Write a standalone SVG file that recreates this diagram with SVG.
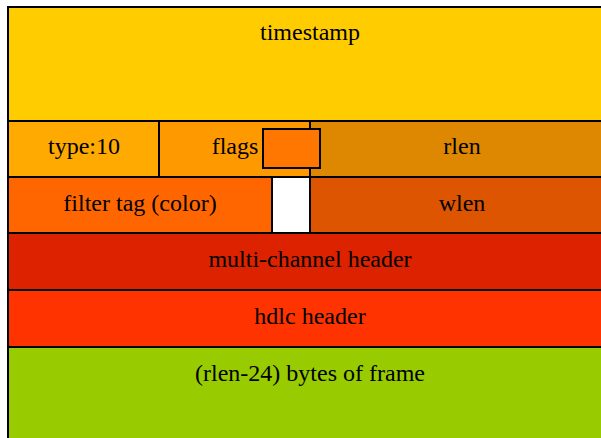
<svg xmlns="http://www.w3.org/2000/svg" width="601" height="438" viewBox="0 0 601 438">
<style>
.c{stroke:#000;stroke-width:2}
text{font-family:"Liberation Serif","Times New Roman",serif;font-size:24px;fill:#000;text-anchor:middle}
</style>
<rect x="0" y="0" width="601" height="438" fill="#fff"/>
<g id="timestamp"><rect class="c" x="8" y="7" width="605" height="114" fill="#ffcc00"/><text x="310" y="40">timestamp</text></g>
<g id="type"><rect class="c" x="8" y="121" width="151" height="56" fill="#ffaa00"/><text x="84" y="154">type:10</text></g>
<g id="flags"><rect class="c" x="159" y="121" width="151" height="56" fill="#ff9900"/><text x="235" y="154">flags</text></g>
<g id="rlen"><rect class="c" x="310" y="121" width="303" height="56" fill="#dd8800"/><text x="462" y="154">rlen</text></g>
<g id="flagbox"><rect class="c" x="263" y="129" width="57" height="39" fill="#ff7700"/></g>
<g id="filtertag"><rect class="c" x="8" y="177" width="264" height="56" fill="#ff6600"/><text x="140" y="211">filter tag (color)</text></g>
<g id="pad"><rect class="c" x="272" y="177" width="38" height="56" fill="#ffffff"/></g>
<g id="wlen"><rect class="c" x="310" y="177" width="303" height="56" fill="#dd5500"/><text x="462" y="211">wlen</text></g>
<g id="mch"><rect class="c" x="8" y="233" width="605" height="57" fill="#dd2200"/><text x="310" y="267">multi-channel header</text></g>
<g id="hdlc"><rect class="c" x="8" y="290" width="605" height="57" fill="#ff3300"/><text x="310" y="324">hdlc header</text></g>
<g id="frame"><rect class="c" x="8" y="347" width="605" height="100" fill="#99cc00"/><text x="310" y="381">(rlen-24) bytes of frame</text></g>
<g id="connectors"/>
</svg>
